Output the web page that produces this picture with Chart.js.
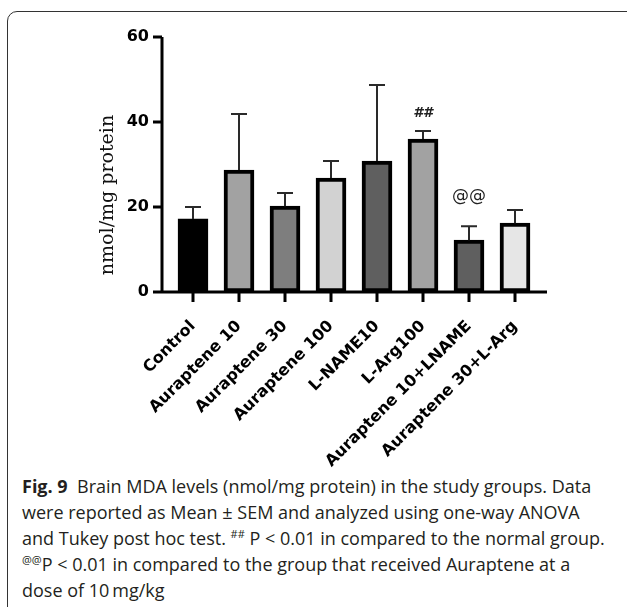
<!DOCTYPE html>
<html>
<head>
<meta charset="utf-8">
<script src="https://cdn.jsdelivr.net/npm/chart.js@4.4.0/dist/chart.umd.min.js"></script>
<style>
html, body { margin: 0; padding: 0; background: #fff; width: 627px; height: 607px; overflow: hidden; }
#frame { position: absolute; left: 7px; top: 11px; width: 640px; height: 620px; border: 1px solid #333; border-radius: 10px; }
#chart { position: absolute; left: 0; top: 0; }
#caption { position: absolute; left: 22px; top: 473px; font-family: 'Open Sans', sans-serif; font-size: 18px; line-height: 26px; color: #231f20; white-space: nowrap; }
#caption b { font-weight: 700; }
#caption sup { font-size: 11px; line-height: 0; vertical-align: 7px; }
</style>
</head>
<body>
<div id="frame"></div>
<canvas id="chart" width="627" height="470"></canvas>
<div id="caption">
<b>Fig. 9</b>&nbsp; Brain MDA levels (nmol/mg protein) in the study groups. Data<br>
were reported as Mean ± SEM and analyzed using one-way ANOVA<br>
and Tukey post hoc test. <sup>##</sup> P &lt; 0.01 in compared to the normal group.<br>
<sup>@@</sup>P &lt; 0.01 in compared to the group that received Auraptene at a<br>
dose of 10&thinsp;mg/kg
</div>
<script>
'use strict';
//___________DATA__________________
var groups = ['Control', 'Auraptene 10', 'Auraptene 30', 'Auraptene 100', 'L-NAME10', 'L-Arg100', 'Auraptene 10+LNAME', 'Auraptene 30+L-Arg'];
var means = [17.2, 28.7, 20.2, 26.8, 30.8, 36.0, 12.2, 16.2];
var sem = [2.8, 13.2, 3.1, 4.0, 17.9, 1.9, 3.3, 3.1];
var fills = ['#000000', '#a2a2a2', '#7e7e7e', '#d2d2d2', '#5f5f5f', '#a2a2a2', '#5f5f5f', '#e6e6e6'];
var marks = ['', '', '', '', '', '##', '@@', ''];
var markAt = [null, null, null, null, null, 42.1, 22.4, null];
var yTicks = [0, 20, 40, 60];
var yTitle = 'nmol/mg protein';

//___________AXES, ERROR BARS, MARKS_________________
var extras = {
  id: 'extras',
  afterDatasetsDraw: function(chart) {
    var ctx = chart.ctx;
    var x = chart.scales.x, y = chart.scales.y;
    ctx.save();
    ctx.strokeStyle = '#2a2a2a';
    ctx.lineWidth = 2;
    for (var i = 0; i < groups.length; i++) {
      var cx = x.getPixelForValue(i);
      var y0 = y.getPixelForValue(means[i]);
      var y1 = y.getPixelForValue(means[i] + sem[i]);
      ctx.beginPath();
      ctx.moveTo(cx, y0);
      ctx.lineTo(cx, y1);
      ctx.moveTo(cx - 8, y1);
      ctx.lineTo(cx + 8, y1);
      ctx.stroke();
    }
    ctx.fillStyle = '#222';
    ctx.textAlign = 'center';
    ctx.textBaseline = 'middle';
    for (var j = 0; j < marks.length; j++) {
      if (!marks[j]) continue;
      ctx.font = marks[j] === '##' ? 'italic bold 14px "DejaVu Sans"' : '17px "DejaVu Sans"';
      ctx.fillText(marks[j], x.getPixelForValue(j), y.getPixelForValue(markAt[j]));
    }
    ctx.restore();
  },
  afterDraw: function(chart) {
    var ctx = chart.ctx;
    var a = chart.chartArea;
    var y = chart.scales.y;
    var ax = a.left - 8;
    ctx.save();
    ctx.strokeStyle = '#000';
    ctx.lineWidth = 3;
    ctx.beginPath();
    ctx.moveTo(ax, y.getPixelForValue(yTicks[yTicks.length - 1]));
    ctx.lineTo(ax, a.bottom);
    ctx.lineTo(a.right + 9, a.bottom);
    for (var k = 0; k < yTicks.length; k++) {
      var ty = y.getPixelForValue(yTicks[k]);
      ctx.moveTo(ax - 9, ty);
      ctx.lineTo(ax, ty);
    }
    for (var i = 0; i < groups.length; i++) {
      var cx = chart.scales.x.getPixelForValue(i);
      ctx.moveTo(cx, a.bottom);
      ctx.lineTo(cx, a.bottom + 10);
    }
    ctx.stroke();
    // y axis title
    ctx.translate(108, 195);
    ctx.rotate(-Math.PI / 2);
    ctx.fillStyle = '#111';
    ctx.font = '19px "DejaVu Serif"';
    ctx.textAlign = 'center';
    ctx.textBaseline = 'middle';
    ctx.fillText(yTitle, 0, 0);
    ctx.restore();
  }
};

var ctx = document.getElementById('chart').getContext('2d');
new Chart(ctx, {
  type: 'bar',
  data: {
    labels: groups,
    datasets: [{
      data: means,
      backgroundColor: fills,
      borderColor: '#000',
      borderWidth: 4,
      borderSkipped: false,
      barThickness: 30
    }]
  },
  options: {
    responsive: false,
    devicePixelRatio: 1,
    animation: false,
    layout: {padding: {left: 0, top: 37, right: 89, bottom: 0}},
    plugins: {legend: {display: false}, tooltip: {enabled: false}},
    scales: {
      x: {
        grid: {display: false, drawTicks: false},
        border: {display: false},
        ticks: {
          minRotation: 45, maxRotation: 45, padding: 25, color: '#000',
          font: {family: 'DejaVu Sans', weight: 'bold', size: 16}
        },
        afterFit: function(scale) { scale.height = 178; }
      },
      y: {
        min: 0, max: 60,
        grid: {display: false, drawTicks: false},
        border: {display: false},
        ticks: {padding: 21, color: '#000', font: {family: 'DejaVu Sans', weight: 'bold', size: 16}},
        afterBuildTicks: function(scale) { scale.ticks = yTicks.map(function(v) { return {value: v}; }); },
        afterFit: function(scale) { scale.width = 170; }
      }
    }
  },
  plugins: [extras]
});//END of CHART
</script>
</body>
</html>
